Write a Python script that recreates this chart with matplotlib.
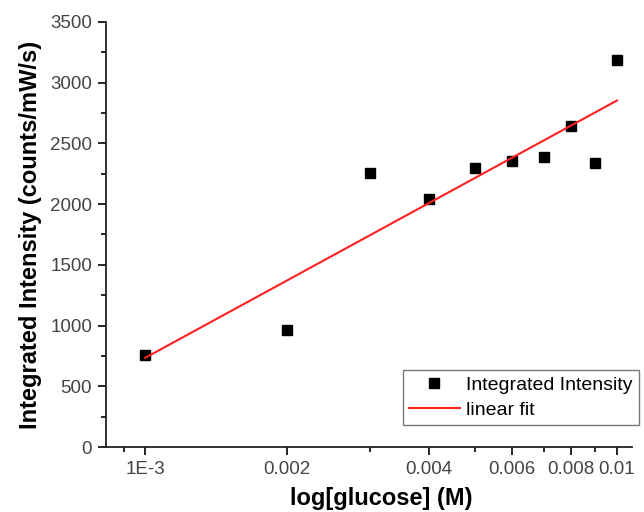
import numpy as np
import matplotlib
matplotlib.use("Agg")
import matplotlib.pyplot as plt
from matplotlib.ticker import FixedLocator, FixedFormatter, MultipleLocator

plt.rcParams['font.family'] = ['Liberation Sans', 'DejaVu Sans']

# data
glucose = [0.001, 0.002, 0.003, 0.004, 0.005, 0.006, 0.007, 0.008, 0.009, 0.01]
intensity = [760, 965, 2255, 2045, 2300, 2355, 2390, 2645, 2340, 3190]
xticks = [0.001, 0.002, 0.004, 0.006, 0.008, 0.01]
xticklabels = ['1E-3', '0.002', '0.004', '0.006', '0.008', '0.01']
xminor = [0.0009, 0.003, 0.005, 0.007, 0.009]

# linear fit vs log10(x)
b, a = np.polyfit(np.log10(glucose), intensity, 1)
xf = np.logspace(-3, -2, 50)
yf = a + b * np.log10(xf)

fig = plt.figure(figsize=(6.44, 5.12), dpi=100)
ax = fig.add_axes([106/644, 1 - 447/512, (632-106)/644, (447-22)/512])

ax.plot(glucose, intensity, 's', color='black', markersize=7, label='Integrated Intensity')
ax.plot(xf, yf, '-', color='#ff2020', linewidth=1.5, label='linear fit')

ax.set_xscale('log')
ax.set_xlim(0.000826, 0.01076)
ax.set_ylim(0, 3500)
ax.xaxis.set_major_locator(FixedLocator(xticks))
ax.xaxis.set_major_formatter(FixedFormatter(xticklabels))
ax.xaxis.set_minor_locator(FixedLocator(xminor))
ax.xaxis.set_minor_formatter(FixedFormatter([''] * len(xminor)))
ax.yaxis.set_major_locator(MultipleLocator(500))
ax.yaxis.set_minor_locator(MultipleLocator(250))

ax.spines['top'].set_visible(False)
ax.spines['right'].set_visible(False)
for s in ('left', 'bottom'):
    ax.spines[s].set_linewidth(1.3)
    ax.spines[s].set_color('#222222')
ax.tick_params(which='major', direction='out', length=6, width=1.2, labelsize=13.5,
               labelcolor='#444444', pad=4)
ax.tick_params(which='minor', direction='out', length=3.5, width=1.2)

ax.set_xlabel('log[glucose] (M)', fontsize=17, fontweight='bold')
ax.xaxis.set_label_coords(0.523, -0.094)
ax.set_ylabel('Integrated Intensity (counts/mW/s)', fontsize=17, fontweight='bold', labelpad=6)

# legend sits low right, running past the axes edge
leg = ax.legend(loc='lower left', bbox_to_anchor=(0.565, 0.052), fontsize=14,
                frameon=True, fancybox=False, edgecolor='#555555',
                handlelength=2.6, handletextpad=0.35, borderpad=0.3,
                labelspacing=0.4, borderaxespad=0)
leg.get_frame().set_linewidth(1.0)

fig.savefig('out.png', dpi=100)
